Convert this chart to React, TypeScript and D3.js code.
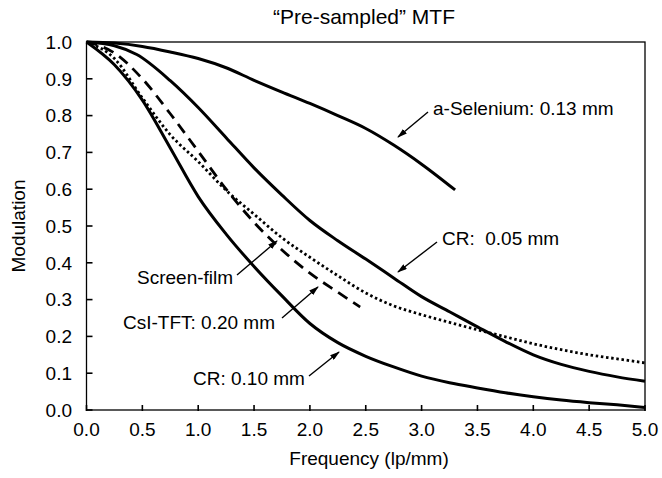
import React from "react";
import * as d3 from "d3";

// ---- data ----
const xTickValues = [0, 0.5, 1.0, 1.5, 2.0, 2.5, 3.0, 3.5, 4.0, 4.5, 5.0];
const yTickValues = [0, 0.1, 0.2, 0.3, 0.4, 0.5, 0.6, 0.7, 0.8, 0.9, 1.0];

const seleniumFreq = [0, 0.25, 0.5, 0.75, 1.0, 1.25, 1.5, 1.75, 2.0, 2.25, 2.5, 2.75, 3.0, 3.3];
const seleniumMTF = [1.0, 0.997, 0.988, 0.973, 0.955, 0.93, 0.896, 0.864, 0.833, 0.8, 0.765, 0.72, 0.668, 0.598];

const cr005Freq = [0, 0.25, 0.45, 0.75, 1.0, 1.25, 1.5, 1.75, 2.0, 2.25, 2.5, 2.75, 3.0, 3.25, 3.5, 3.75, 4.0, 4.25, 4.5, 4.75, 5.0];
const cr005MTF = [1.0, 0.99, 0.966, 0.895, 0.822, 0.74, 0.658, 0.584, 0.515, 0.46, 0.41, 0.359, 0.308, 0.267, 0.226, 0.186, 0.15, 0.124, 0.105, 0.09, 0.078];

const screenFilmFreq = [0, 0.25, 0.5, 0.75, 1.0, 1.25, 1.5, 1.75, 2.0, 2.25, 2.5, 2.75, 3.0, 3.25, 3.5, 3.75, 4.0, 4.25, 4.5, 4.75, 5.0];
const screenFilmMTF = [1.0, 0.955, 0.848, 0.748, 0.675, 0.597, 0.532, 0.468, 0.415, 0.365, 0.318, 0.283, 0.259, 0.238, 0.218, 0.199, 0.18, 0.164, 0.15, 0.139, 0.128];

const csiFreq = [0, 0.25, 0.5, 0.75, 1.0, 1.25, 1.5, 1.75, 2.0, 2.25, 2.45];
const csiMTF = [1.0, 0.97, 0.9, 0.805, 0.703, 0.6, 0.51, 0.435, 0.372, 0.32, 0.28];

const cr010Freq = [0, 0.25, 0.5, 0.75, 1.0, 1.25, 1.5, 1.75, 2.0, 2.25, 2.5, 2.75, 3.0, 3.25, 3.5, 3.75, 4.0, 4.25, 4.5, 4.75, 5.0];
const cr010MTF = [1.0, 0.938, 0.842, 0.712, 0.58, 0.478, 0.39, 0.31, 0.235, 0.183, 0.146, 0.117, 0.092, 0.074, 0.06, 0.047, 0.036, 0.027, 0.02, 0.014, 0.007];

const annotationLabels = [
  "a-Selenium: 0.13 mm",
  "CR:  0.05 mm",
  "Screen-film",
  "CsI-TFT: 0.20 mm",
  "CR: 0.10 mm",
];

// ---- layout ----
const W = 662;
const H = 478;
const plot = { left: 86.5, right: 645, top: 42, bottom: 410 };
const FONT = "'Liberation Sans', Arial, Helvetica, sans-serif";

const series = [
  { freq: seleniumFreq, mtf: seleniumMTF, dash: "none", width: 3 },
  { freq: cr005Freq, mtf: cr005MTF, dash: "none", width: 3 },
  { freq: screenFilmFreq, mtf: screenFilmMTF, dash: "2.5 2.7", width: 2.8 },
  { freq: csiFreq, mtf: csiMTF, dash: "11 7", width: 2.8 },
  { freq: cr010Freq, mtf: cr010MTF, dash: "none", width: 3 },
];

// annotation placement (pixels): text start/baseline and arrow from -> to
const annotationLayout = [
  { tx: 433, ty: 115, x1: 428, y1: 112, x2: 398, y2: 137 },
  { tx: 442, ty: 245, x1: 437, y1: 242, x2: 398, y2: 272 },
  { tx: 137, ty: 283.5, x1: 237, y1: 275, x2: 277, y2: 241 },
  { tx: 123, ty: 328.5, x1: 282, y1: 318, x2: 318, y2: 287 },
  { tx: 193, ty: 385, x1: 309, y1: 376, x2: 339, y2: 352 },
];

export default function App() {
  const x = d3.scaleLinear().domain([0, 5]).range([plot.left, plot.right]);
  const y = d3.scaleLinear().domain([0, 1]).range([plot.bottom, plot.top]);

  const line = d3
    .line<[number, number]>()
    .x((d) => x(d[0]))
    .y((d) => y(d[1]))
    .curve(d3.curveMonotoneX);

  return (
    <svg
      width={W}
      height={H}
      style={{ position: "absolute", left: 0, top: 0, background: "#fff" }}
      fontFamily={FONT}
    >
      <defs>
        <marker
          id="arrow"
          viewBox="0 0 10 6"
          refX={9}
          refY={3}
          markerWidth={10}
          markerHeight={6}
          markerUnits="userSpaceOnUse"
          orient="auto"
        >
          <path d="M0,0 L10,3 L0,6 Z" fill="#000" />
        </marker>
      </defs>
      <rect x={0} y={0} width={W} height={H} fill="#fff" />

      {/* title */}
      <text x={364} y={24} textAnchor="middle" fontSize={21} fill="#000">
        “Pre-sampled” MTF
      </text>

      {/* curves */}
      {series.map((s, i) => (
        <path
          key={i}
          d={line(s.freq.map((f, j) => [f, s.mtf[j]] as [number, number])) || ""}
          fill="none"
          stroke="#000"
          strokeWidth={s.width}
          strokeDasharray={s.dash}
          strokeLinejoin="round"
        />
      ))}

      {/* frame */}
      <rect
        x={plot.left}
        y={plot.top}
        width={plot.right - plot.left}
        height={plot.bottom - plot.top}
        fill="none"
        stroke="#000"
        strokeWidth={1.3}
      />

      {/* y ticks */}
      {yTickValues.map((v) => (
        <g key={"y" + v}>
          <line x1={plot.left} x2={plot.left + 6} y1={y(v)} y2={y(v)} stroke="#000" strokeWidth={1.6} />
          <text x={72} y={y(v)} dy="0.36em" textAnchor="end" fontSize={19} fill="#000">
            {v.toFixed(1)}
          </text>
        </g>
      ))}

      {/* x ticks */}
      {xTickValues.map((v) => (
        <g key={"x" + v}>
          <line x1={x(v)} x2={x(v)} y1={plot.bottom - 5} y2={plot.bottom + 1} stroke="#000" strokeWidth={1.6} />
          <text x={x(v)} y={436} textAnchor="middle" fontSize={19} fill="#000">
            {v.toFixed(1)}
          </text>
        </g>
      ))}

      {/* axis titles */}
      <text x={369} y={465} textAnchor="middle" fontSize={19} fill="#000">
        Frequency (lp/mm)
      </text>
      <text
        transform={`translate(25,${(plot.top + plot.bottom) / 2}) rotate(-90)`}
        textAnchor="middle"
        fontSize={19}
        fill="#000"
      >
        Modulation
      </text>

      {/* annotations */}
      {annotationLabels.map((label, i) => {
        const a = annotationLayout[i];
        return (
          <g key={"a" + i}>
            <line
              x1={a.x1}
              y1={a.y1}
              x2={a.x2}
              y2={a.y2}
              stroke="#000"
              strokeWidth={1.4}
              markerEnd="url(#arrow)"
            />
            <text x={a.tx} y={a.ty} fontSize={19} fill="#000" style={{ whiteSpace: "pre" }}>
              {label}
            </text>
          </g>
        );
      })}
    </svg>
  );
}
